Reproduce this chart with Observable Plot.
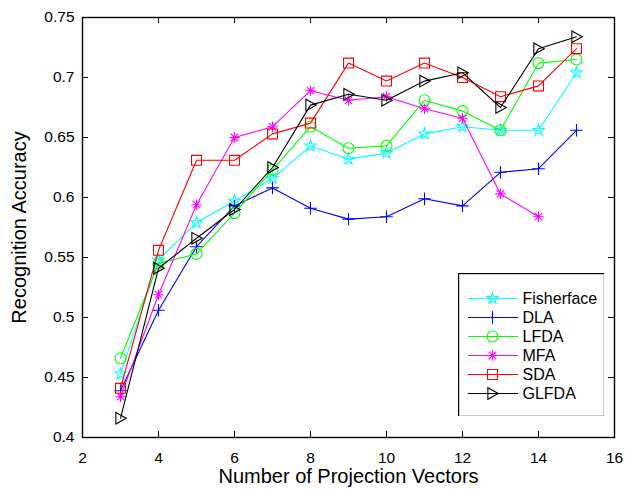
<!DOCTYPE html>
<html>
<head>
<meta charset="utf-8">
<script src="https://cdn.jsdelivr.net/npm/d3@7"></script>
<script src="https://cdn.jsdelivr.net/npm/@observablehq/plot@0.6"></script>
<style>
  html, body { margin: 0; padding: 0; background: #fff; }
  #wrap { position: relative; width: 626px; height: 490px; font-family: "Liberation Sans", Arial, sans-serif; }
  #legend { position: absolute; left: 458px; top: 273px; }
</style>
</head>
<body>
<div id="wrap"><div id="chart"></div><div id="legend"></div></div>
<script>
// ---- data ----
const xValues = [3, 4, 5, 6, 7, 8, 9, 10, 11, 12, 13, 14, 15];
const seriesNames = ["Fisherface", "DLA", "LFDA", "MFA", "SDA", "GLFDA"];
const fisherface = [0.453, 0.548, 0.579, 0.597, 0.616, 0.643, 0.632, 0.637, 0.653, 0.659, 0.656, 0.656, 0.704];
const dla        = [0.439, 0.506, 0.559, 0.593, 0.608, 0.591, 0.582, 0.584, 0.599, 0.593, 0.621, 0.624, 0.656];
const lfda       = [0.466, 0.545, 0.553, 0.587, 0.623, 0.659, 0.641, 0.643, 0.681, 0.672, 0.656, 0.712, 0.715];
const mfa        = [0.434, 0.519, 0.594, 0.650, 0.659, 0.689, 0.681, 0.684, 0.674, 0.666, 0.603, 0.584];
const sda        = [0.441, 0.556, 0.631, 0.631, 0.653, 0.662, 0.712, 0.697, 0.712, 0.700, 0.684, 0.693, 0.724];
const glfda      = [0.416, 0.541, 0.566, 0.590, 0.625, 0.677, 0.686, 0.681, 0.697, 0.704, 0.675, 0.724, 0.734];
const xTicks = [2, 4, 6, 8, 10, 12, 14, 16];
const yTicks = [0.4, 0.45, 0.5, 0.55, 0.6, 0.65, 0.7, 0.75];
const xLabel = "Number of Projection Vectors";
const yLabel = "Recognition Accuracy";

// ---- styles ----
const triangleRight = {
  draw(context, size) {
    const r = Math.sqrt(size / Math.PI);
    context.moveTo(-0.8 * r, -r);
    context.lineTo(r, 0);
    context.lineTo(-0.8 * r, r);
    context.closePath();
  }
};
const asterisk8 = {
  draw(context, size) {
    const r = Math.sqrt(size / Math.PI);
    const d = r * 0.72;
    context.moveTo(-r, 0); context.lineTo(r, 0);
    context.moveTo(0, -r); context.lineTo(0, r);
    context.moveTo(-d, -d); context.lineTo(d, d);
    context.moveTo(-d, d); context.lineTo(d, -d);
  }
};
const plusSym = {
  draw(context, size) {
    const r = Math.sqrt(size / Math.PI);
    context.moveTo(-r, 0); context.lineTo(r, 0);
    context.moveTo(0, -r); context.lineTo(0, r);
  }
};
const styles = {
  Fisherface: {values: fisherface, color: "#00ffff", symbol: "star", r: 3.6},
  DLA:        {values: dla,        color: "#0000ff", symbol: plusSym, r: 6.2},
  LFDA:       {values: lfda,       color: "#00ff00", symbol: "circle", r: 5.5},
  MFA:        {values: mfa,        color: "#ff00ff", symbol: asterisk8, r: 5.2},
  SDA:        {values: sda,        color: "#ff0000", symbol: "square", r: 5.6},
  GLFDA:      {values: glfda,      color: "#000000", symbol: triangleRight, r: 5.8}
};

const rows = name => styles[name].values.map((v, i) => ({x: xValues[i], y: v}));

const font = "Liberation Sans, Arial, sans-serif";
const marks = [];
for (const name of seriesNames) {
  const s = styles[name];
  marks.push(Plot.line(rows(name), {x: "x", y: "y", stroke: s.color, strokeWidth: 1.1}));
  marks.push(Plot.dot(rows(name), {x: "x", y: "y", stroke: s.color, fill: "none", symbol: s.symbol, r: s.r, strokeWidth: 1.1}));
}

const chart = Plot.plot({
  width: 626,
  height: 490,
  marginLeft: 82,
  marginRight: 12,
  marginTop: 17,
  marginBottom: 53,
  style: {fontFamily: font, fontSize: "15px", background: "white", color: "black"},
  x: {domain: [2, 16]},
  y: {domain: [0.4, 0.75]},
  marks: [
    ...marks,
    // inward ticks on all four sides
    Plot.tickX(xTicks, {x: d => d, insetTop: 414, stroke: "black"}),
    Plot.tickX(xTicks, {x: d => d, insetBottom: 414, stroke: "black"}),
    Plot.tickY(yTicks, {y: d => d, insetRight: 526, stroke: "black"}),
    Plot.tickY(yTicks, {y: d => d, insetLeft: 526, stroke: "black"}),
    Plot.axisX(xTicks, {tickSize: 0, tickPadding: 14, label: null, tickFormat: d => String(d), fontSize: 15.5}),
    Plot.axisY(yTicks, {tickSize: 0, tickPadding: 8, label: null, tickFormat: d => String(d), fontSize: 15.5}),
    Plot.frame({stroke: "black", strokeWidth: 1.4}),
    Plot.text([xLabel], {text: d => d, frameAnchor: "bottom", dy: 45, fontSize: 20}),
    Plot.text([yLabel], {text: d => d, frameAnchor: "left", textAnchor: "middle", dx: -63, rotate: -90, fontSize: 20})
  ]
});
document.getElementById("chart").append(chart);

// ---- legend ----
const legendMarks = [];
for (const name of seriesNames) {
  const s = styles[name];
  legendMarks.push(Plot.ruleY([name], {y: d => d, stroke: s.color, strokeWidth: 1.2, insetLeft: 10, insetRight: 86}));
  legendMarks.push(Plot.dot([name], {y: d => d, frameAnchor: "left", dx: 34, stroke: s.color, fill: "none", symbol: s.symbol, r: s.r, strokeWidth: 1.1}));
  legendMarks.push(Plot.text([name], {y: d => d, text: d => d, frameAnchor: "left", dx: 64, textAnchor: "start", fontSize: 16, fill: "black"}));
}
const legend = Plot.plot({
  width: 146,
  height: 143,
  margin: 0,
  style: {fontFamily: font, background: "white"},
  y: {type: "point", domain: seriesNames, range: [15, 129], axis: null},
  marks: [
    Plot.frame({fill: "white", stroke: "black", strokeWidth: 1.4}),
    ...legendMarks
  ]
});
document.getElementById("legend").append(legend);
</script>
</body>
</html>
